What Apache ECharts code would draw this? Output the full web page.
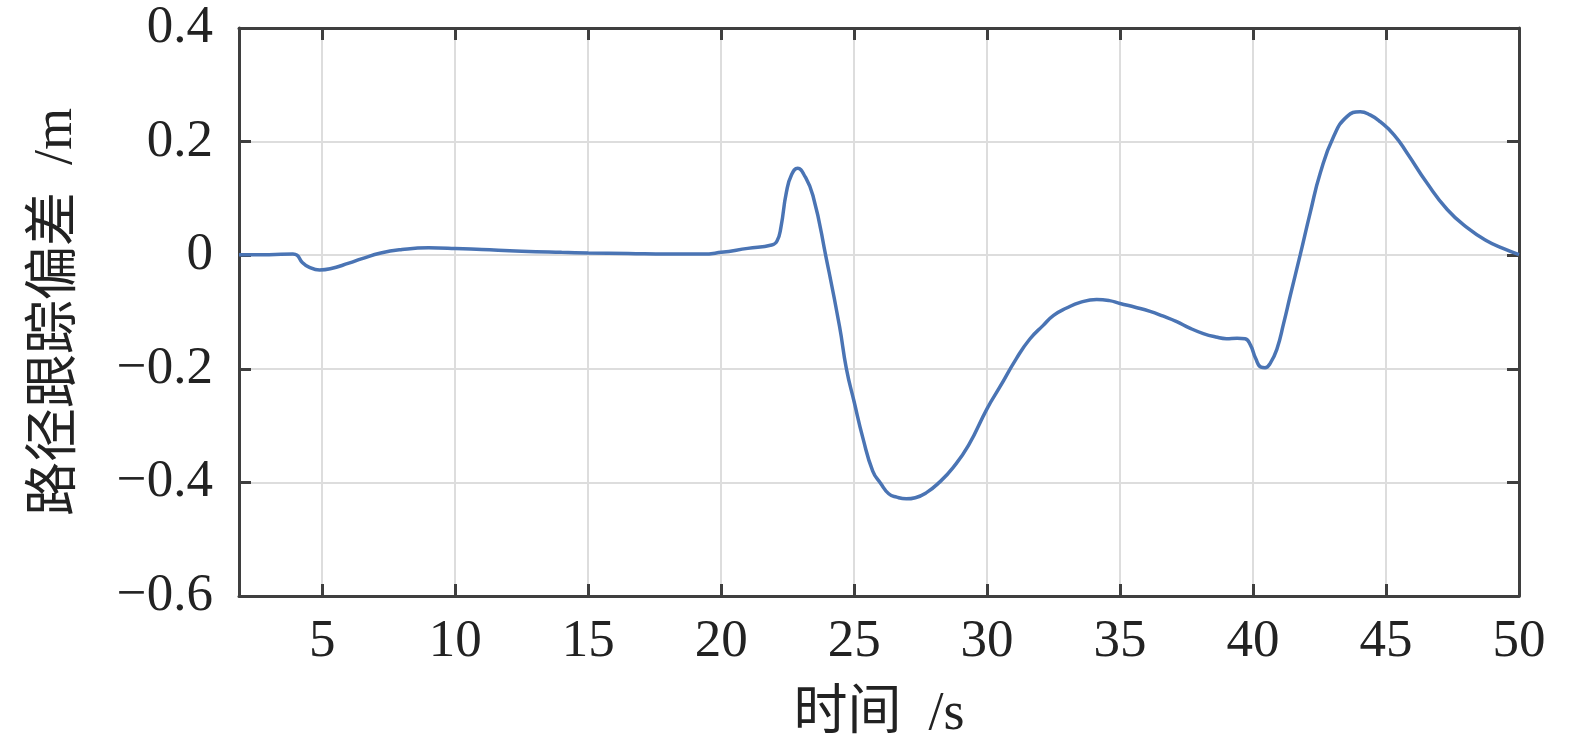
<!DOCTYPE html>
<html>
<head>
<meta charset="utf-8">
<script src="https://cdn.jsdelivr.net/npm/echarts@6/dist/echarts.min.js"></script>
<style>html,body{margin:0;padding:0;background:#fff}#c{width:1575px;height:747px}</style>
</head>
<body>
<div id="c"></div>
<script>
const xTicks = [5, 10, 15, 20, 25, 30, 35, 40, 45, 50];
const yTicks = [-0.6, -0.4, -0.2, 0, 0.2, 0.4];
const timeS = [1.87, 3.0, 3.9, 4.05, 4.25, 4.5, 4.9, 5.3, 6.0, 6.5, 7.2, 8.0, 9.0, 10.0, 11.0, 12.5, 14.0, 15.0, 16.5, 18.0, 19.3, 20.0, 21.0, 21.9, 22.1, 22.25, 22.45, 22.65, 22.88, 23.1, 23.45, 23.95, 24.45, 24.71, 25.0, 25.33, 25.7, 26.0, 26.3, 26.6, 26.96, 27.3, 27.72, 28.2, 28.72, 29.3, 30.0, 30.48, 31.1, 31.6, 32.1, 32.5, 32.99, 33.5, 34.12, 34.6, 35.0, 35.6, 36.13, 36.6, 37.13, 37.6, 38.13, 38.6, 39.0, 39.4, 39.7, 39.9, 40.1, 40.3, 40.45, 40.65, 40.9, 41.15, 41.4, 41.77, 42.15, 42.53, 43.03, 43.53, 44.03, 44.4, 44.78, 45.3, 45.79, 46.54, 47.3, 48.05, 48.8, 49.4, 50.0];
const errorM = [0.001, 0.001, 0.002, 0.0, -0.013, -0.021, -0.026, -0.024, -0.014, -0.006, 0.004, 0.010, 0.013, 0.012, 0.010, 0.007, 0.005, 0.004, 0.003, 0.002, 0.002, 0.005, 0.012, 0.018, 0.025, 0.05, 0.11, 0.142, 0.153, 0.143, 0.105, -0.005, -0.125, -0.2, -0.258, -0.322, -0.38, -0.402, -0.42, -0.426, -0.429, -0.427, -0.418, -0.400, -0.374, -0.335, -0.27, -0.232, -0.182, -0.148, -0.124, -0.106, -0.093, -0.083, -0.078, -0.080, -0.085, -0.092, -0.099, -0.107, -0.117, -0.128, -0.138, -0.144, -0.147, -0.146, -0.147, -0.158, -0.182, -0.197, -0.198, -0.19, -0.165, -0.12, -0.071, 0.0, 0.075, 0.145, 0.209, 0.244, 0.2525, 0.247, 0.235, 0.212, 0.18, 0.127, 0.0805, 0.0485, 0.025, 0.012, 0.001];

const serif = "'Liberation Serif', 'Noto Sans CJK SC', serif";
const axisColor = '#3f3f3f';
const fmtY = v => {
  const r = Math.round(v * 10) / 10;
  if (r === 0) return '0';
  return (r < 0 ? '\u2212' : '') + Math.abs(r).toFixed(1);
};
const chart = echarts.init(document.getElementById('c'));
const common = {
  axisLine: { show: true, onZero: false, lineStyle: { color: axisColor, width: 3 } },
  axisTick: { show: true, inside: true, length: 12, lineStyle: { color: axisColor, width: 3 } }
};
chart.setOption({
  animation: false,
  grid: { left: 239, right: 56, top: 28, bottom: 148, containLabel: false },
  xAxis: [
    {
      type: 'value', min: 1.87, max: 50, position: 'bottom',
      ...common,
      axisTick: { ...common.axisTick, customValues: xTicks },
      axisLabel: { customValues: xTicks, margin: 20, color: '#222', fontFamily: serif, fontSize: 53 },
      splitLine: { show: true, lineStyle: { color: '#dddddd', width: 2 } },
      name: '时间  /s', nameLocation: 'middle', nameGap: 92,
      nameTextStyle: { fontFamily: serif, fontSize: 54, color: '#222' }
    },
    {
      type: 'value', min: 1.87, max: 50, position: 'top',
      ...common,
      axisTick: { ...common.axisTick, customValues: xTicks },
      axisLabel: { show: false, customValues: xTicks },
      splitLine: { show: false }
    }
  ],
  yAxis: [
    {
      type: 'value', min: -0.6, max: 0.4, interval: 0.2, position: 'left',
      ...common,
      axisLabel: { formatter: fmtY, margin: 26, color: '#222', fontFamily: serif, fontSize: 53 },
      splitLine: { show: true, lineStyle: { color: '#dddddd', width: 2 } },
      name: '路径跟踪偏差  /m', nameLocation: 'middle', nameGap: 155,
      nameTextStyle: { fontFamily: serif, fontSize: 54, color: '#222' }
    },
    {
      type: 'value', min: -0.6, max: 0.4, interval: 0.2, position: 'right',
      ...common,
      axisLabel: { show: false },
      splitLine: { show: false }
    }
  ],
  series: [{
    type: 'line',
    data: timeS.map((t, i) => [t, errorM[i]]),
    showSymbol: false,
    smooth: 0.5,
    lineStyle: { color: '#4a74b4', width: 3.5 },
    clip: true
  }]
});
</script>
</body>
</html>
